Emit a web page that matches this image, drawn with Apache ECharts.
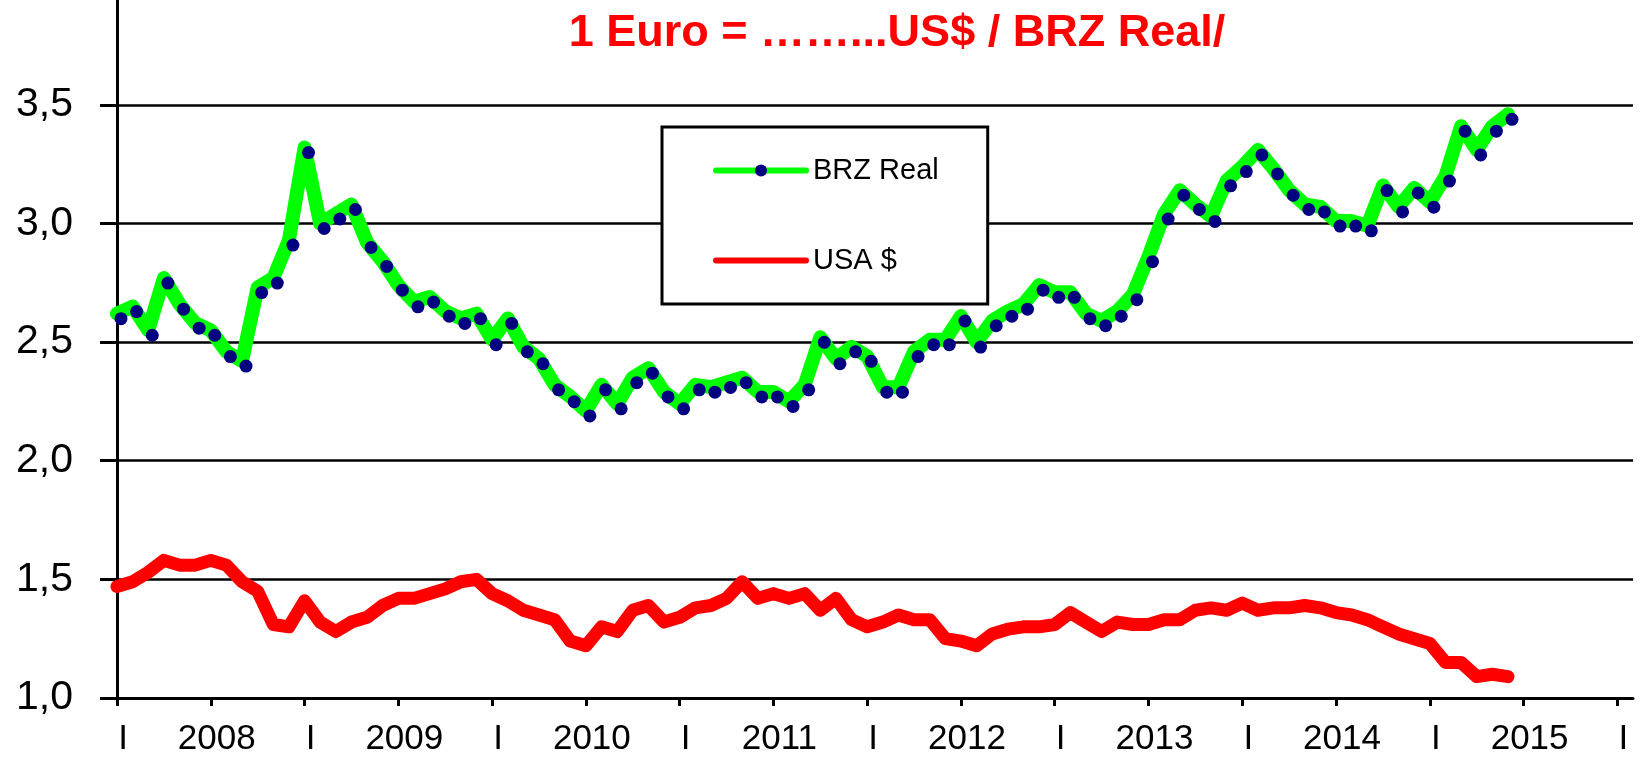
<!DOCTYPE html>
<html>
<head>
<meta charset="utf-8">
<script src="https://cdn.jsdelivr.net/npm/echarts@6/dist/echarts.min.js"></script>
<style>
    html, body { margin: 0; padding: 0; background: #fff; overflow: hidden; }
    #chart { width: 1642px; height: 757px; }
</style>
</head>
<body>
<div id="chart"></div>
<script>
// jahre auf der x-achse, monatswerte ab jan 2008
const years = ['2008', '2009', '2010', '2011', '2012', '2013', '2014', '2015'];
const brzReal = [
    2.62, 2.65, 2.55, 2.77, 2.66, 2.58, 2.55, 2.46, 2.42, 2.73, 2.77, 2.93,
    3.32, 3.00, 3.04, 3.08, 2.92, 2.84, 2.74, 2.67, 2.69, 2.63, 2.60, 2.62,
    2.51, 2.60, 2.48, 2.43, 2.32, 2.27, 2.21, 2.32, 2.24, 2.35, 2.39, 2.29,
    2.24, 2.32, 2.31, 2.33, 2.35, 2.29, 2.29, 2.25, 2.32, 2.52, 2.43, 2.48,
    2.44, 2.31, 2.31, 2.46, 2.51, 2.51, 2.61, 2.50, 2.59, 2.63, 2.66, 2.74,
    2.71, 2.71, 2.62, 2.59, 2.63, 2.70, 2.86, 3.04, 3.14, 3.08, 3.03, 3.18,
    3.24, 3.31, 3.23, 3.14, 3.08, 3.07, 3.01, 3.01, 2.99, 3.16, 3.07, 3.15,
    3.09, 3.20, 3.41, 3.31, 3.41, 3.46
];
const usaDollar = [
    1.47, 1.49, 1.53, 1.58, 1.56, 1.56, 1.58, 1.56, 1.49, 1.45, 1.31, 1.30,
    1.41, 1.32, 1.28, 1.32, 1.34, 1.39, 1.42, 1.42, 1.44, 1.46, 1.49, 1.50,
    1.44, 1.41, 1.37, 1.35, 1.33, 1.24, 1.22, 1.30, 1.28, 1.37, 1.39, 1.32,
    1.34, 1.38, 1.39, 1.42, 1.49, 1.42, 1.44, 1.42, 1.44, 1.37, 1.42, 1.33,
    1.30, 1.32, 1.35, 1.33, 1.33, 1.25, 1.24, 1.22, 1.27, 1.29, 1.30, 1.30,
    1.31, 1.36, 1.32, 1.28, 1.32, 1.31, 1.31, 1.33, 1.33, 1.37, 1.38, 1.37,
    1.40, 1.37, 1.38, 1.38, 1.39, 1.38, 1.36, 1.35, 1.33, 1.30, 1.27, 1.25,
    1.23, 1.15, 1.15, 1.09, 1.10, 1.09
];
const yTicks = [1.0, 1.5, 2.0, 2.5, 3.0, 3.5];

// monate jan 2008 .. feb 2016 (achse laeuft etwas ueber 2015 hinaus)
let months = [];
for (let i = 0; i < 98; i++) {
    let y = 2008 + Math.floor(i / 12);
    months.push(y + '-' + (i % 12 + 1));
}

const font = '"Liberation Sans", Arial, sans-serif';
let chart = echarts.init(document.getElementById('chart'));
chart.setOption({
    animation: false,
    backgroundColor: '#fff',
    title: {
        text: '1 Euro = \u2026\u2026...US$ / BRZ Real/',
        left: 892,
        top: 6,
        textAlign: 'center',
        textStyle: {
            color: '#ff0000',
            fontSize: 45,
            fontWeight: 'bold',
            fontFamily: font
        }
    },
    legend: {
        orient: 'vertical',
        left: 662,
        top: 127,
        padding: [29, 49, 29, 51],
        itemWidth: 90,
        itemHeight: 15,
        itemGap: 61,
        backgroundColor: '#fff',
        borderColor: '#000',
        borderWidth: 3,
        borderRadius: 0,
        textStyle: {
            color: '#000',
            fontSize: 29,
            fontFamily: font,
            padding: [0, 0, 0, 2]
        },
        data: [
            {
                name: 'BRZ Real',
                lineStyle: { color: '#00ff00', width: 6, cap: 'round' },
                itemStyle: { color: '#000080' }
            },
            {
                name: 'USA $',
                lineStyle: { color: '#ff0000', width: 6, cap: 'round' },
                itemStyle: { color: 'rgba(0,0,0,0)' }
            }
        ]
    },
    grid: {
        left: 117,
        right: 9,
        top: 0,
        bottom: 58
    },
    xAxis: {
        type: 'category',
        boundaryGap: false,
        data: months,
        axisLine: { lineStyle: { color: '#000', width: 3 } },
        axisTick: {
            interval: 5,
            length: 8,
            lineStyle: { color: '#000', width: 3 }
        },
        axisLabel: {
            interval: 5,
            margin: 24,
            padding: [0, 0, 0, 12],
            color: '#000',
            fontSize: 35,
            fontFamily: font,
            formatter: function (v, i) {
                if (i % 12 === 0) return 'I';
                return years[Math.floor(i / 12)];
            }
        },
        splitLine: { show: false }
    },
    yAxis: {
        type: 'value',
        min: 1,
        max: 3.942,     // achse reicht bis an den oberen rand
        interval: 0.5,
        axisLine: { show: true, lineStyle: { color: '#000', width: 3 } },
        axisTick: {
            show: true,
            length: 17,
            lineStyle: { color: '#000', width: 3 }
        },
        axisLabel: {
            margin: 44,
            color: '#000',
            fontSize: 41,
            fontFamily: font,
            showMaxLabel: false,
            formatter: function (v) {
                return yTicks.indexOf(v) >= 0 ? v.toFixed(1).replace('.', ',') : '';
            }
        },
        splitLine: {
            showMaxLine: false,
            lineStyle: { color: '#000', width: 2.5 }
        }
    },
    series: [
        {
            name: 'USA $',
            type: 'line',
            data: usaDollar,
            symbol: 'none',
            lineStyle: { color: '#ff0000', width: 13, cap: 'round', join: 'round' },
            itemStyle: { color: '#ff0000' },
            emphasis: { disabled: true }
        },
        {
            name: 'BRZ Real',
            type: 'line',
            data: brzReal,
            symbol: 'circle',
            symbolSize: 13,
            symbolOffset: [4, 5],
            showSymbol: true,
            showAllSymbol: true,
            lineStyle: { color: '#00ff00', width: 14, cap: 'round', join: 'round' },
            itemStyle: { color: '#000080' },
            emphasis: { disabled: true }
        }
    ]
});
</script>
</body>
</html>
